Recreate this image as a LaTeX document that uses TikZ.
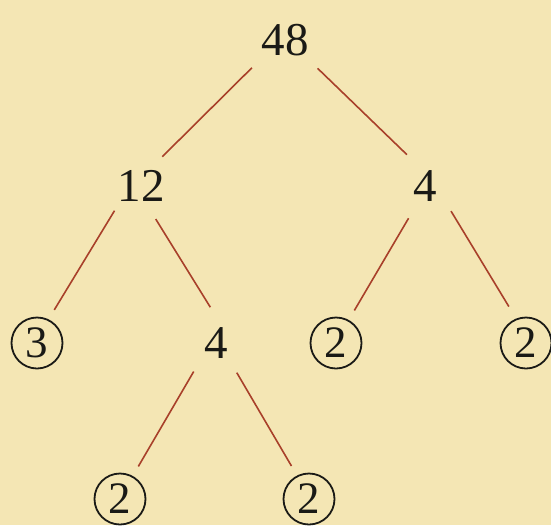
\documentclass[tikz,border=0pt]{standalone}
\definecolor{parchment}{HTML}{F4E6B4}
\definecolor{ink}      {HTML}{1A1A16}
\definecolor{rust}     {HTML}{A8402A}
\usepackage{fontspec}
\setmainfont{Liberation Serif}
\usepackage{tikz}
\usetikzlibrary{positioning}
\tikzset{
  factor/.style={circle,inner sep=0pt,minimum size=72pt,text=ink,
                 font=\fontsize{47}{50}\selectfont},
  prime/.style={circle,draw=ink,line width=1.8pt,inner sep=0pt,
                minimum size=51pt,text=ink,font=\fontsize{45}{48}\selectfont},
  branch/.style={draw=rust,line width=1.6pt},
  toprime/.style={branch,shorten >=11pt}
}
\begin{document}
\begin{tikzpicture}[x=1pt,y=-1pt]
  \fill[parchment] (0,0) rectangle (551,525);
  \useasboundingbox (0,0) rectangle (551,525);
  % factor tree of 48
  \node[factor,minimum size=86pt] (n48) at (285,40)  {48};
  \node[factor] (n12)  at (141,186) {12};
  \node[factor] (n4r)  at (425,186) {4};
  \node[factor] (n4m)  at (216,343) {4};
  \node[prime]  (p3)   at (37,343)  {3};
  \node[prime]  (p2a)  at (336,343) {2};
  \node[prime]  (p2b)  at (526,343) {2};
  \node[prime]  (p2c)  at (120,499) {2};
  \node[prime]  (p2d)  at (309,499) {2};
  % branches
  \draw[branch]  (n48.220) -- (n12.54);
  \draw[branch]  (n48.-41) -- (n4r.120);
  \draw[toprime] (n12.223) -- (p3.64);
  \draw[branch]  (n12.-66) -- (n4m.99);
  \draw[toprime] (n4r.243) -- (p2a.61);
  \draw[toprime,shorten >=14pt] (n4r.-44) -- (p2b.112);
  \draw[toprime] (n4m.232) -- (p2c.61);
  \draw[toprime] (n4m.-55) -- (p2d.117);
\end{tikzpicture}
\end{document}
